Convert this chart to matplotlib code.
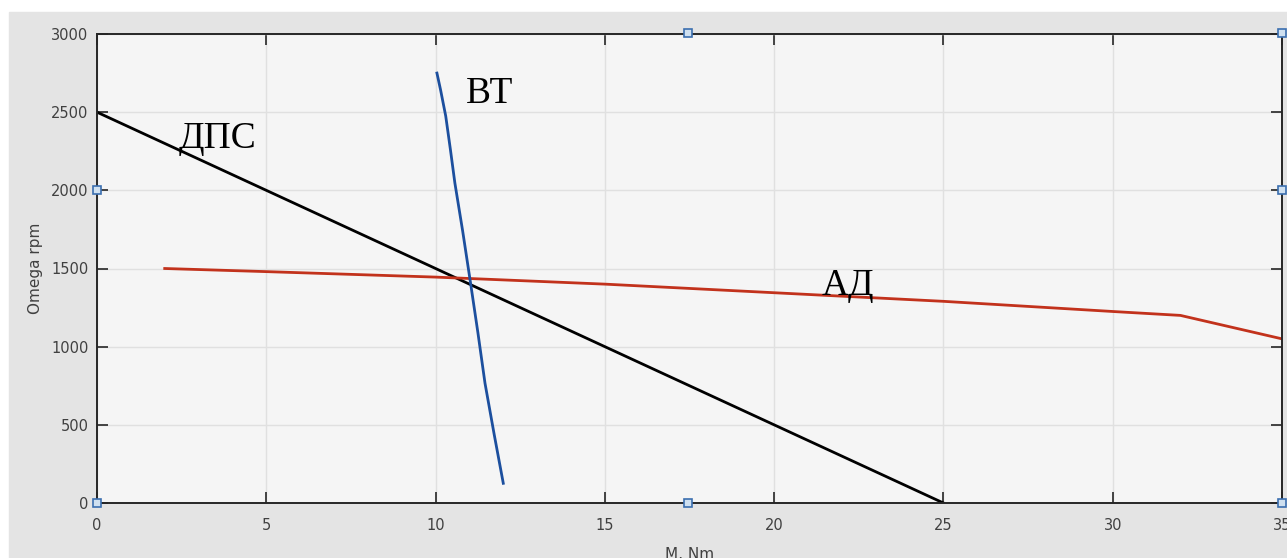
import matplotlib.pyplot as plt
from matplotlib.patches import Rectangle

# ДПС (black)
dps_m = [0, 25]
dps_w = [2500, 0]

# АД (red)
ad_m = [2, 5, 10, 15, 20, 25, 30, 32, 35]
ad_w = [1500, 1480, 1445, 1400, 1345, 1290, 1225, 1200, 1050]

# ВТ (blue)
vt_m = [10.04, 10.15, 10.3, 10.44, 10.57, 10.8, 11.02, 11.25, 11.46, 11.73, 12.0]
vt_w = [2750, 2640, 2475, 2258, 2047, 1740, 1426, 1090, 766, 440, 126]

xticks = [0, 5, 10, 15, 20, 25, 30, 35]
yticks = [0, 500, 1000, 1500, 2000, 2500, 3000]

W, H = 1287, 558
fig = plt.figure(figsize=(W / 100, H / 100), dpi=100)
fig.patch.set_facecolor('white')
fig.patches.append(Rectangle((9 / W, 0), 1 - 9 / W, (H - 12) / H,
                             transform=fig.transFigure, color='#e4e4e4', zorder=-10))

ax = fig.add_axes([97 / W, (H - 503) / H, 1185 / W, 469 / H])
ax.set_facecolor('#f5f5f5')

ax.plot(dps_m, dps_w, color='black', lw=2.0)
ax.plot(ad_m, ad_w, color='#c2321c', lw=2.0)
ax.plot(vt_m, vt_w, color='#1c4f9e', lw=2.0)

ax.set_xlim(0, 35)
ax.set_ylim(0, 3000)
ax.set_xticks(xticks)
ax.set_yticks(yticks)
ax.grid(True, color='#e0e0e0', lw=1)
ax.set_axisbelow(True)
ax.tick_params(direction='in', length=8, width=1.2, colors='#262626',
               labelcolor='#404040', labelsize=10.5, top=True, right=True)
ax.tick_params(axis='x', pad=11)
ax.tick_params(axis='y', pad=6)
for s in ax.spines.values():
    s.set_color('#262626')
    s.set_linewidth(1.4)

ax.set_xlabel('M, Nm', fontsize=11, color='#404040', labelpad=10)
ax.set_ylabel('Omega rpm', fontsize=11, color='#404040', labelpad=6)

serif = dict(family='Liberation Serif', fontsize=27, color='black')
ax.text(2.4, 2270, 'ДПС', **serif)
ax.text(10.9, 2560, 'ВТ', **serif)
ax.text(21.4, 1330, 'АД', **serif)

# selection handles of the screenshot
hx = [97, 688, 1282, 97, 1282, 688, 1282]
hy = [503, 503, 503, 190, 190, 33, 33]
fig.add_artist(plt.Line2D([x / W for x in hx], [(H - y) / H for y in hy],
                          transform=fig.transFigure, ls='none', marker='s',
                          ms=6, mfc='#cfe0f0', mec='#3b6fb0', mew=1.2))

fig.savefig('out.png', dpi=100)
